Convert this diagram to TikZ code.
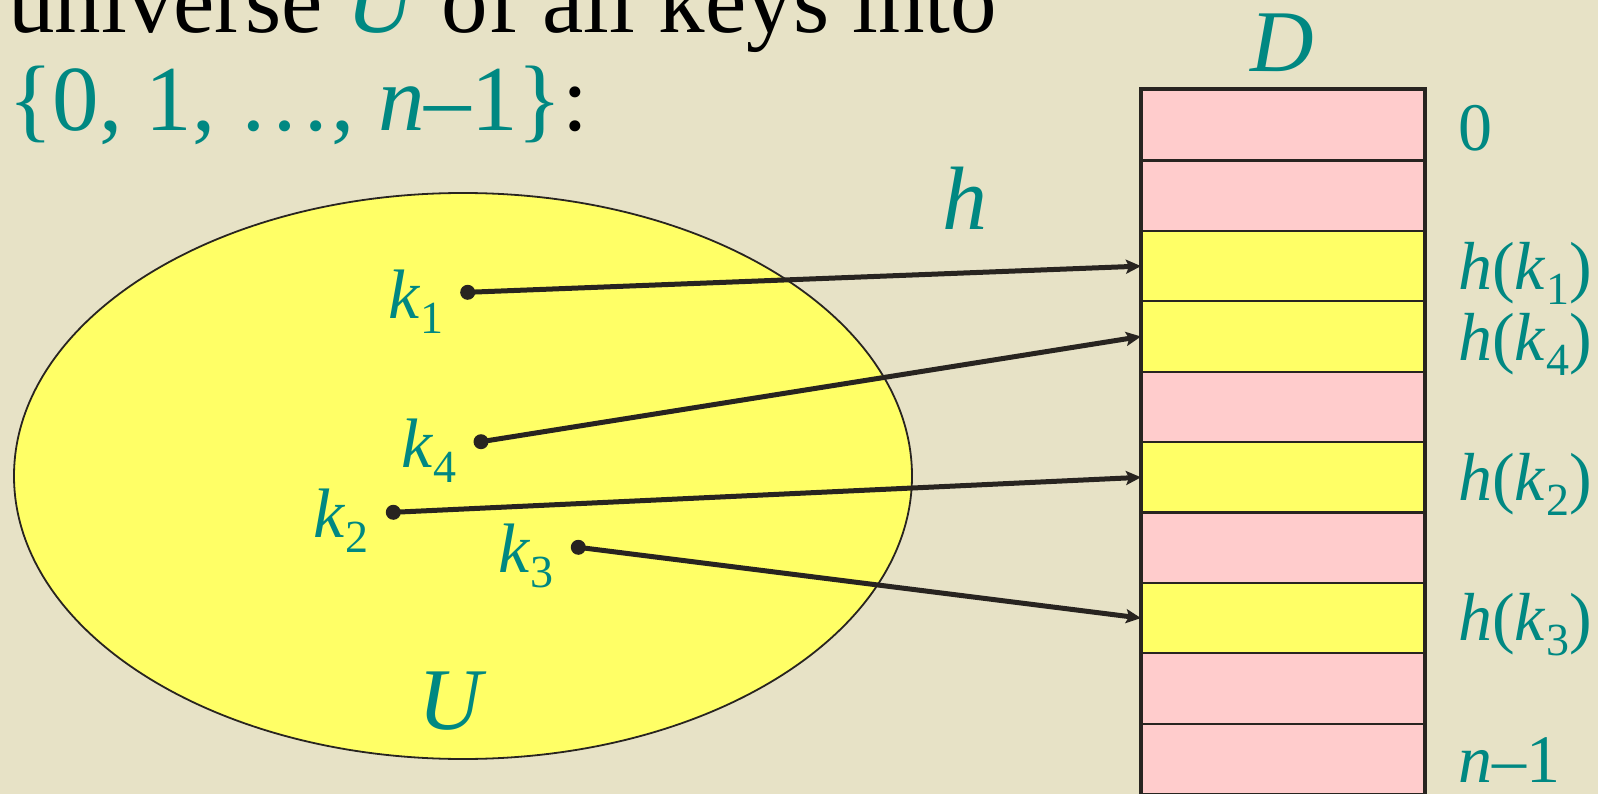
\documentclass[tikz,border=0pt]{standalone}
\usepackage{fontspec}
\setmainfont{Liberation Serif}
\usetikzlibrary{arrows.meta,shapes.geometric}
\definecolor{bg}{RGB}{231,226,198}
\definecolor{tealc}{RGB}{0,136,130}
\definecolor{pinkc}{RGB}{255,204,204}
\definecolor{yelc}{RGB}{255,255,102}
\definecolor{ink}{RGB}{40,36,32}
\newcommand{\fsz}[1]{\fontsize{#1}{#1}\selectfont}
\newcommand{\ksub}[1]{\textit{k}\raisebox{-15pt}{\fsz{46}#1}}
\begin{document}
\begin{tikzpicture}[x=1pt,y=-1pt,
  lbl/.style={inner sep=0pt,anchor=base west,text=tealc},
  cell/.style={draw=ink,line width=2.2pt,minimum width=282pt,minimum height=70.4pt,inner sep=0pt,anchor=north west},
  pcell/.style={cell,fill=pinkc},
  ycell/.style={cell,fill=yelc},
  keydot/.style={circle,fill=ink,inner sep=0pt,minimum size=15pt},
  hasharrow/.style={draw=ink,line width=5pt,-{Stealth[length=15pt,width=14pt,inset=3pt]},shorten <=-2pt}]
\useasboundingbox[fill=bg] (0,0) rectangle (1598,794);
% heading text
\node[inner sep=0pt,anchor=base west] (t1) at (8,33) {\fsz{93}universe \textcolor{tealc}{\textit{U}} of all keys into};
\node[inner sep=0pt,anchor=base west] (t2) at (8,131) {\fsz{93}\textcolor{tealc}{\{0, 1, …, \textit{n}–1\}}:};
% universe
\node[draw=ink,line width=1.8pt,fill=yelc,ellipse,minimum width=898pt,minimum height=566pt,inner sep=0pt] (U) at (463,476) {};
\node[lbl,anchor=base] (Ulab) at (453,729) {\fsz{88}\textit{U}};
% table
\node[pcell] (r0) at (1141,89) {};
\node[pcell] (r1) at (1141,159.4) {};
\node[ycell] (r2) at (1141,229.8) {};
\node[ycell] (r3) at (1141,300.2) {};
\node[pcell] (r4) at (1141,370.6) {};
\node[ycell] (r5) at (1141,441) {};
\node[pcell] (r6) at (1141,511.4) {};
\node[ycell] (r7) at (1141,581.8) {};
\node[pcell] (r8) at (1141,652.2) {};
\node[pcell] (r9) at (1141,722.6) {};
\draw[ink,line width=3.5pt] (r0.north west) rectangle (r9.south east);
\node[lbl,anchor=base] (Dlab) at (1282,72) {\fsz{88}\textit{D}};
% slot labels
\node[lbl] (l0) at (1458,151) {\fsz{68}0};
\node[lbl] (l1) at (1458,290) {\fsz{68}\textit{h}(\ksub{1})};
\node[lbl] (l4) at (1458,360) {\fsz{68}\textit{h}(\ksub{4})};
\node[lbl] (l2) at (1458,500) {\fsz{68}\textit{h}(\ksub{2})};
\node[lbl] (l3) at (1458,640) {\fsz{68}\textit{h}(\ksub{3})};
\node[lbl] (ln) at (1458,782) {\fsz{68}\textit{n}–1};
\node[lbl] (hlab) at (942,230) {\fsz{90}\textit{h}};
% keys
\node[keydot] (k1) at (467.7,292.3) {};
\node[keydot] (k4) at (481,441.7) {};
\node[keydot] (k2) at (393.3,512.3) {};
\node[keydot] (k3) at (578.3,547.3) {};
\node[lbl] (k1lab) at (388,318) {\fsz{70}\ksub{1}};
\node[lbl] (k4lab) at (401,467) {\fsz{70}\ksub{4}};
\node[lbl] (k2lab) at (313,537) {\fsz{70}\ksub{2}};
\node[lbl] (k3lab) at (498,572) {\fsz{70}\ksub{3}};
% hash arrows
\draw[hasharrow] (k1.center) -- (r2.west);
\draw[hasharrow] (k4.center) -- (r3.west);
\draw[hasharrow] (k2.center) -- (r5.west);
\draw[hasharrow] (k3.center) -- (r7.west);
\end{tikzpicture}
\end{document}
